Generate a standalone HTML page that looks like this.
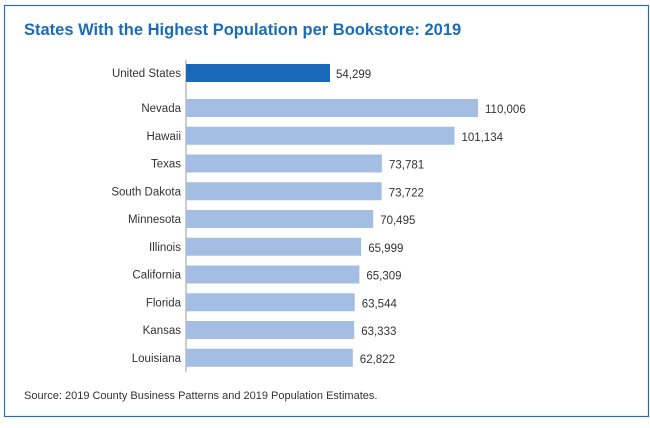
<!DOCTYPE html>
<html><head><meta charset="utf-8"><style>
body{margin:0;width:650px;height:423px;background:#fff;font-family:"Liberation Sans",sans-serif;overflow:hidden}
</style></head><body>
<svg width="650" height="423" xmlns="http://www.w3.org/2000/svg" font-family="Liberation Sans, sans-serif">
<rect x="4.5" y="5.5" width="644" height="411" fill="#fff" stroke="#2f6db0" stroke-width="1.2"/>
<text x="24" y="35" font-size="16.5" font-weight="bold" fill="#1b6cb8">States With the Highest Population per Bookstore: 2019</text>
<line x1="186" y1="60" x2="186" y2="372" stroke="#999" stroke-width="1"/>
<g font-size="11.5" fill="#333">
<rect x="186" y="64" width="144" height="18" fill="#1a68b8"/>
<text x="181" y="77" text-anchor="end">United States</text><text x="336" y="78">54,299</text>

<rect x="186" y="99" width="292.1" height="18" fill="#a4bde3"/>
<text x="181" y="112" text-anchor="end">Nevada</text><text x="485" y="113">110,006</text>

<rect x="186" y="126.75" width="268.5" height="18" fill="#a4bde3"/>
<text x="181" y="139.75" text-anchor="end">Hawaii</text><text x="461.5" y="140.75">101,134</text>

<rect x="186" y="154.5" width="195.9" height="18" fill="#a4bde3"/>
<text x="181" y="167.5" text-anchor="end">Texas</text><text x="389" y="168.5">73,781</text>

<rect x="186" y="182.25" width="195.7" height="18" fill="#a4bde3"/>
<text x="181" y="195.25" text-anchor="end">South Dakota</text><text x="388.7" y="196.25">73,722</text>

<rect x="186" y="210" width="187.2" height="18" fill="#a4bde3"/>
<text x="181" y="223" text-anchor="end">Minnesota</text><text x="380.2" y="224">70,495</text>

<rect x="186" y="237.75" width="175.2" height="18" fill="#a4bde3"/>
<text x="181" y="250.75" text-anchor="end">Illinois</text><text x="368.2" y="251.75">65,999</text>

<rect x="186" y="265.5" width="173.4" height="18" fill="#a4bde3"/>
<text x="181" y="278.5" text-anchor="end">California</text><text x="366.4" y="279.5">65,309</text>

<rect x="186" y="293.25" width="168.7" height="18" fill="#a4bde3"/>
<text x="181" y="306.25" text-anchor="end">Florida</text><text x="361.7" y="307.25">63,544</text>

<rect x="186" y="321" width="168.2" height="18" fill="#a4bde3"/>
<text x="181" y="334" text-anchor="end">Kansas</text><text x="361.2" y="335">63,333</text>

<rect x="186" y="348.75" width="166.8" height="18" fill="#a4bde3"/>
<text x="181" y="361.75" text-anchor="end">Louisiana</text><text x="359.8" y="362.75">62,822</text>
</g>
<text x="24" y="399" font-size="11" fill="#333">Source: 2019 County Business Patterns and 2019 Population Estimates.</text>
</svg>
</body></html>
